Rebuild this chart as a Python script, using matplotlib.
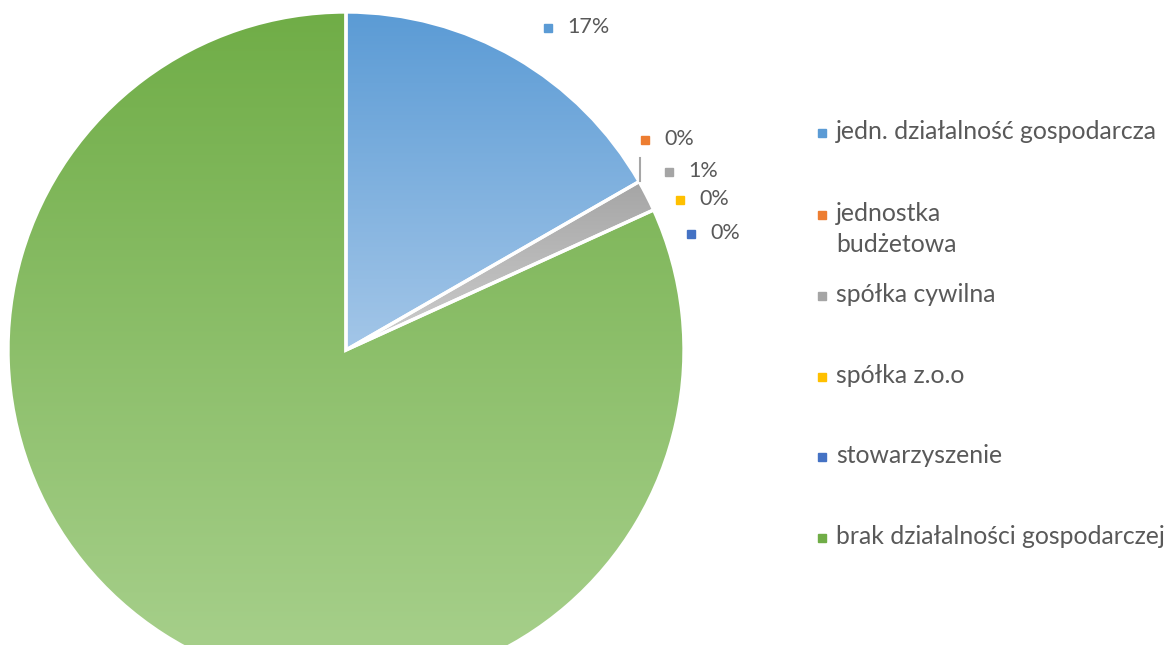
import numpy as np
import matplotlib
matplotlib.use("Agg")
import matplotlib.pyplot as plt
from matplotlib.colors import LinearSegmentedColormap
from matplotlib.patches import Rectangle

labels = ["jedn. działalność gospodarcza", "jednostka\nbudżetowa", "spółka cywilna",
          "spółka z.o.o", "stowarzyszenie", "brak działalności gospodarczej"]
values = [16.7, 0.0, 1.5, 0.0, 0.0, 81.8]
pct_labels = ["17%", "0%", "1%", "0%", "0%"]   # green slice has no visible label
top_colors = ["#5B9BD5", "#ED7D31", "#A5A5A5", "#FFC000", "#4472C4", "#70AD47"]
bot_colors = ["#A3C6E8", "#F4B183", "#CFCFCF", "#FFD966", "#8FAADC", "#A9D18E"]

plt.rcParams['font.family'] = ['Lato', 'DejaVu Sans']
txt_col = "#595959"

fig = plt.figure(figsize=(11.76, 6.45), dpi=100)
ax = fig.add_axes([0, 0, 1, 1])

# pie centre / radius in pixel space (y measured from bottom)
cx, cy, r = 346, 645 - 350, 338
wedges, _ = ax.pie(values, startangle=90, counterclock=False, center=(cx, cy), radius=r,
                   colors=top_colors, wedgeprops=dict(edgecolor="white", linewidth=2.4))

# vertical gradient inside each wedge (like the original office chart)
for w, c0, c1 in zip(wedges, top_colors, bot_colors):
    if w.theta2 - w.theta1 < 1e-6:
        continue
    ext = w.get_path().get_extents()
    cmap = LinearSegmentedColormap.from_list("g", [c1, c0])
    grad = np.linspace(0, 1, 256).reshape(-1, 1)
    im = ax.imshow(grad, cmap=cmap, origin="lower", aspect="auto",
                   extent=[ext.x0, ext.x1, ext.y0, ext.y1], zorder=1)
    im.set_clip_path(w)
    w.set_facecolor("none")
    w.set_zorder(2)
ax.set_xlim(0, 1176)
ax.set_ylim(0, 645)
ax.set_aspect("equal")
ax.axis("off")

# data labels
lab_pos = [(548, 28), (645, 140), (669, 172), (680, 200), (691, 234)]
for (x, y), t, c in zip(lab_pos, pct_labels, top_colors):
    ax.add_patch(Rectangle((x - 4, 645 - y - 4), 8, 8, color=c, zorder=3))
    ax.text(x + 19, 645 - y + 1, t, fontsize=15.5, color=txt_col, va="center", ha="left")
# leader line for the small slice label
ax.plot([640, 640], [645 - 158, 645 - 181], color="#A6A6A6", lw=1.5, zorder=3)

# legend
leg_y = [133, 215, 296, 377, 457, 538]
for y, t, c in zip(leg_y, labels, top_colors):
    ax.add_patch(Rectangle((818, 645 - y - 4), 8, 8, color=c, zorder=3))
    ax.text(836, 645 - y + 13, t, fontsize=17.8, color=txt_col, va="top", ha="left",
            linespacing=1.42)

fig.savefig("out.png", dpi=100)
